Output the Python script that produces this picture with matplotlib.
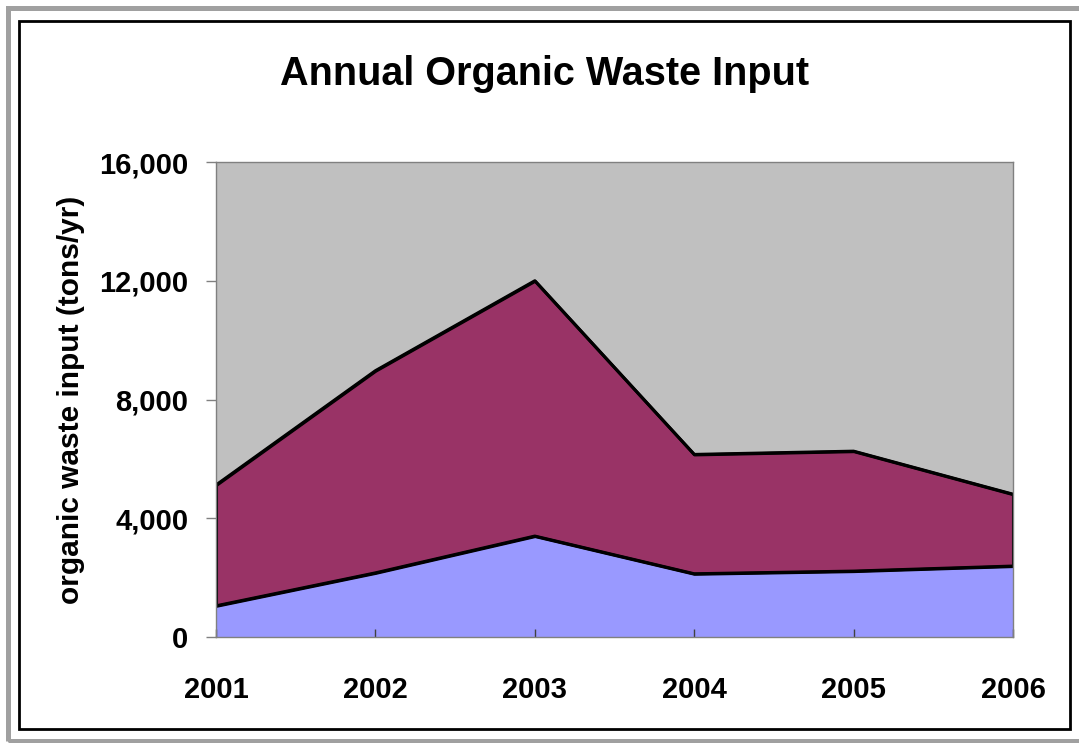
import matplotlib
matplotlib.use("Agg")
import matplotlib.pyplot as plt
from matplotlib.patches import Rectangle
from matplotlib.ticker import FuncFormatter

# data
years = [2001, 2002, 2003, 2004, 2005, 2006]
lower_series = [1050, 2160, 3400, 2130, 2220, 2390]
upper_series = [4070, 6810, 8600, 4020, 4040, 2420]
y_ticks = [0, 4000, 8000, 12000, 16000]

plt.rcParams['font.family'] = ['Liberation Sans', 'DejaVu Sans']
plt.rcParams['font.weight'] = 'bold'

W, H = 1079, 743
fig = plt.figure(figsize=(W / 100, H / 100), dpi=100)
fig.patch.set_facecolor('white')

# outer gray frame and inner black border
def px_rect(x0, y0, x1, y1, **kw):
    return Rectangle((x0 / W, 1 - y1 / H), (x1 - x0) / W, (y1 - y0) / H,
                     transform=fig.transFigure, fill=False, **kw)

fig.patches.append(px_rect(7.5, 8, 1090, 740.5, edgecolor='#A0A0A0', linewidth=3.6))
fig.patches.append(px_rect(18.5, 20.5, 1069.5, 728.5, edgecolor='black', linewidth=2))

ax = fig.add_axes([216 / W, 1 - 637 / H, (1013 - 216) / W, (637 - 162) / H])
ax.set_facecolor('#C0C0C0')

x = list(range(len(years)))
top = [a + b for a, b in zip(lower_series, upper_series)]

ax.fill_between(x, 0, lower_series, facecolor='#9999FF', linewidth=0)
ax.fill_between(x, lower_series, top, facecolor='#993366',
                edgecolor='black', linewidth=2.2)
ax.plot(x, lower_series, color='black', linewidth=2.2)
ax.plot(x, top, color='black', linewidth=2.2)

ax.set_xlim(0, len(years) - 1)
ax.set_ylim(0, 16000)
ax.set_yticks(y_ticks)
ax.yaxis.set_major_formatter(FuncFormatter(lambda v, p: f'{int(v):,}'))
ax.set_xticks(x)
ax.set_xticklabels([str(y) for y in years])

for s in ax.spines.values():
    s.set_color('#808080')
    s.set_linewidth(1)

ax.tick_params(axis='y', direction='out', length=7, width=1, color='#808080',
               labelsize=21, pad=13)
ax.tick_params(axis='x', direction='in', length=6, width=1, color='#404040',
               labelsize=21, pad=28)
for lab in ax.get_xticklabels() + ax.get_yticklabels():
    lab.set_fontweight('bold')

ax.set_ylabel('organic waste input (tons/yr)', fontsize=21.5, fontweight='bold',
              labelpad=10)
fig.text((281 + 808) / 2 / W, 1 - 74 / H, 'Annual Organic Waste Input',
         ha='center', va='center', fontsize=28.5, fontweight='bold')

fig.savefig('out.png', dpi=100)
